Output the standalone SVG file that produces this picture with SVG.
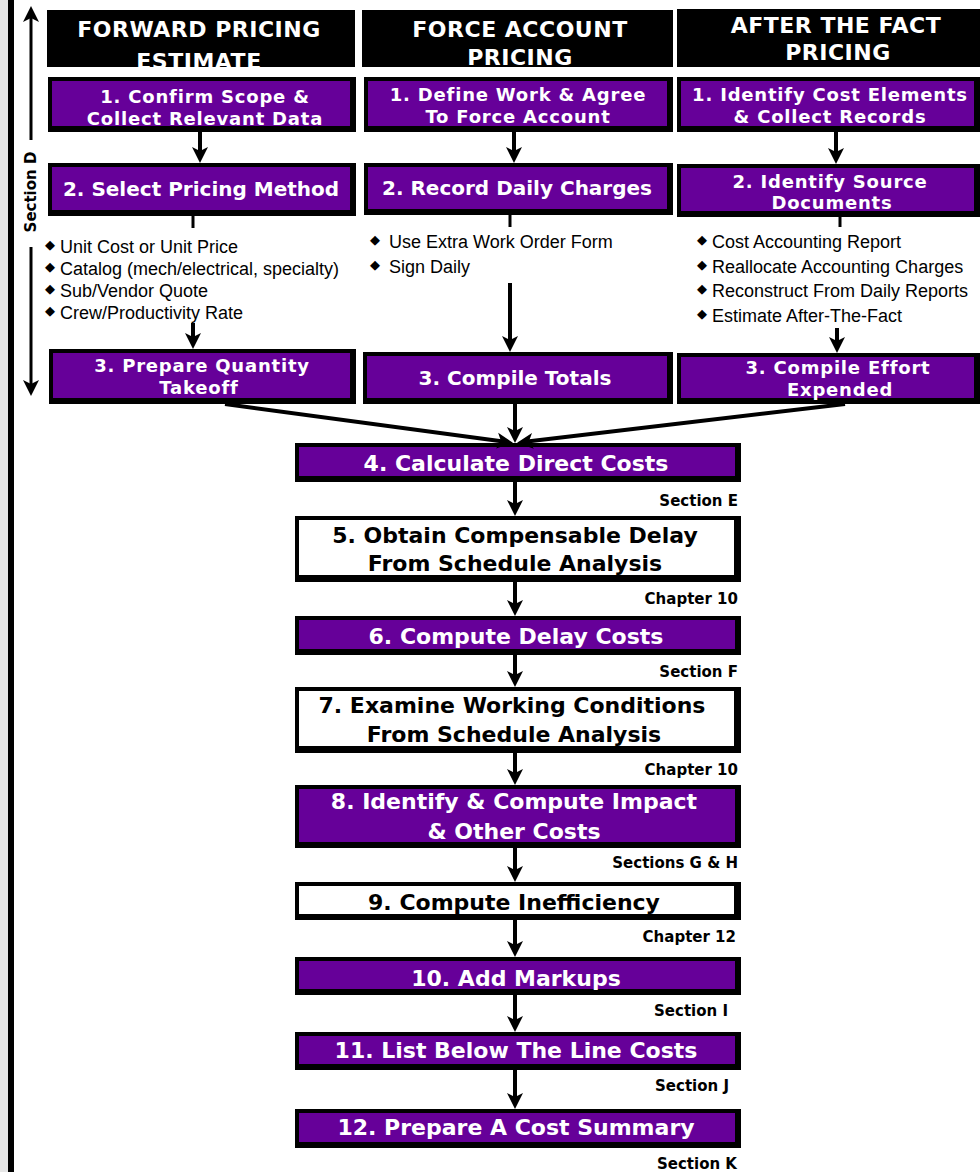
<svg xmlns="http://www.w3.org/2000/svg" width="980" height="1172" viewBox="0 0 980 1172">
<defs>
<style>
.blk{fill:#000}
.pur{fill:#660099}
.wht{fill:#fff}
.t{font-family:"DejaVu Sans","Liberation Sans",sans-serif;font-weight:bold;text-anchor:middle}
.tw{fill:#fff}
.tk{fill:#000}
.s18{font-size:18px;letter-spacing:0.8px}
.s20{font-size:20px}
.s22{font-size:22px}
.hd{font-size:22px;letter-spacing:0.5px}
.lbl{font-family:"DejaVu Sans","Liberation Sans",sans-serif;font-weight:bold;font-size:15px;text-anchor:end;fill:#000}
.bul{font-family:"Liberation Sans",Arial,sans-serif;font-size:18px;fill:#000}
.dia{font-family:"DejaVu Sans",sans-serif;font-size:13px;text-anchor:middle;fill:#000}
.con{stroke:#000;stroke-width:4;fill:none}
.tick{stroke:#000;stroke-width:3;fill:none}
</style>
<marker id="ah" markerUnits="userSpaceOnUse" markerWidth="18" markerHeight="18" refX="10" refY="9" orient="auto">
<path d="M0,1 L16,9 L0,17 L4,9 z" fill="#000"/>
</marker>
</defs>
<rect x="0" y="0" width="980" height="1172" fill="#fff"/>
<rect x="0" y="0" width="8" height="1172" fill="#e6e6e6"/>
<rect x="8" y="0" width="6" height="1172" fill="#000"/>

<g id="axis">
<path class="con" style="stroke-width:3" d="M31,140 V12" marker-end="url(#ah)"/>
<path class="con" style="stroke-width:3" d="M31,247 V390" marker-end="url(#ah)"/>
<text class="t tk" style="font-size:15px" transform="translate(36,192) rotate(-90)">Section D</text>
</g>

<g id="header1">
<rect class="blk" x="47" y="10" width="308" height="57"/>
<text class="t tw hd" x="199" y="37">FORWARD PRICING</text>
<text class="t tw hd" x="199" y="69">ESTIMATE</text>
</g>
<g id="header2">
<rect class="blk" x="362" y="10" width="311" height="57"/>
<text class="t tw hd" x="520" y="37">FORCE ACCOUNT</text>
<text class="t tw hd" x="520" y="65">PRICING</text>
</g>
<g id="header3">
<rect class="blk" x="677" y="9" width="303" height="58"/>
<text class="t tw hd" x="836" y="33">AFTER THE FACT</text>
<text class="t tw hd" x="838" y="60">PRICING</text>
</g>

<g id="fpe1">
<rect class="blk" x="48" y="77" width="308" height="55"/>
<rect class="pur" x="52" y="81" width="298" height="45"/>
<text class="t tw s18" x="205" y="103">1. Confirm Scope &amp;</text>
<text class="t tw s18" x="205" y="125">Collect Relevant Data</text>
</g>
<g id="fa1">
<rect class="blk" x="364" y="77" width="309" height="55"/>
<rect class="pur" x="368" y="81" width="299" height="45"/>
<text class="t tw s18" x="518" y="101">1. Define Work &amp; Agree</text>
<text class="t tw s18" x="518" y="123">To Force Account</text>
</g>
<g id="atf1">
<rect class="blk" x="677" y="77" width="303" height="55"/>
<rect class="pur" x="681" y="81" width="293" height="45"/>
<text class="t tw s18" x="830" y="101">1. Identify Cost Elements</text>
<text class="t tw s18" x="830" y="123">&amp; Collect Records</text>
</g>

<g id="fpe2">
<rect class="blk" x="48" y="163" width="308" height="53"/>
<rect class="pur" x="52" y="167" width="298" height="43"/>
<text class="t tw s20" x="201" y="196">2. Select Pricing Method</text>
</g>
<g id="fa2">
<rect class="blk" x="364" y="163" width="309" height="52"/>
<rect class="pur" x="368" y="167" width="299" height="42"/>
<text class="t tw s20" x="517" y="195">2. Record Daily Charges</text>
</g>
<g id="atf2">
<rect class="blk" x="677" y="164" width="303" height="53"/>
<rect class="pur" x="681" y="168" width="293" height="43"/>
<text class="t tw s18" x="830" y="188">2. Identify Source</text>
<text class="t tw s18" x="832" y="209">Documents</text>
</g>

<g id="fpe-bullets">
<text class="dia" x="50" y="249">◆</text>
<text class="dia" x="50" y="271">◆</text>
<text class="dia" x="50" y="293">◆</text>
<text class="dia" x="50" y="315">◆</text>
<text class="bul" x="60" y="253">Unit Cost or Unit Price</text>
<text class="bul" x="60" y="275">Catalog (mech/electrical, specialty)</text>
<text class="bul" x="60" y="297">Sub/Vendor Quote</text>
<text class="bul" x="60" y="319">Crew/Productivity Rate</text>
</g>
<g id="fa-bullets">
<text class="dia" x="375" y="244">◆</text>
<text class="dia" x="375" y="269">◆</text>
<text class="bul" x="389" y="248">Use Extra Work Order Form</text>
<text class="bul" x="389" y="273">Sign Daily</text>
</g>
<g id="atf-bullets">
<text class="dia" x="702" y="244">◆</text>
<text class="dia" x="702" y="269">◆</text>
<text class="dia" x="702" y="293">◆</text>
<text class="dia" x="702" y="318">◆</text>
<text class="bul" x="712" y="248">Cost Accounting Report</text>
<text class="bul" x="712" y="273">Reallocate Accounting Charges</text>
<text class="bul" x="712" y="297">Reconstruct From Daily Reports</text>
<text class="bul" x="712" y="322">Estimate After-The-Fact</text>
</g>

<g id="fpe3">
<rect class="blk" x="49" y="349" width="307" height="55"/>
<rect class="pur" x="53" y="353" width="297" height="45"/>
<text class="t tw s18" x="202" y="372">3. Prepare Quantity</text>
<text class="t tw s18" x="199" y="394">Takeoff</text>
</g>
<g id="fa3">
<rect class="blk" x="363" y="352" width="310" height="52"/>
<rect class="pur" x="367" y="356" width="300" height="42"/>
<text class="t tw s20" x="515" y="385">3. Compile Totals</text>
</g>
<g id="atf3">
<rect class="blk" x="677" y="353" width="303" height="51"/>
<rect class="pur" x="681" y="357" width="293" height="41"/>
<text class="t tw s18" x="838" y="374">3. Compile Effort</text>
<text class="t tw s18" x="840" y="396">Expended</text>
</g>

<g id="step4">
<rect class="blk" x="295" y="443" width="446" height="39"/>
<rect class="pur" x="299" y="447" width="436" height="29"/>
<text class="t tw s22" x="516" y="471">4. Calculate Direct Costs</text>
</g>
<text class="lbl" x="738" y="506">Section E</text>
<g id="step5">
<rect class="blk" x="295" y="516" width="446" height="66"/>
<rect class="wht" x="299" y="520" width="435" height="55"/>
<text class="t tk s22" x="515" y="543">5. Obtain Compensable Delay</text>
<text class="t tk s22" x="515" y="571">From Schedule Analysis</text>
</g>
<text class="lbl" x="738" y="604">Chapter 10</text>
<g id="step6">
<rect class="blk" x="295" y="616" width="446" height="39"/>
<rect class="pur" x="299" y="620" width="436" height="29"/>
<text class="t tw s22" x="516" y="644">6. Compute Delay Costs</text>
</g>
<text class="lbl" x="738" y="677">Section F</text>
<g id="step7">
<rect class="blk" x="295" y="687" width="446" height="66"/>
<rect class="wht" x="299" y="691" width="435" height="55"/>
<text class="t tk s22" x="512" y="713">7. Examine Working Conditions</text>
<text class="t tk s22" x="514" y="742">From Schedule Analysis</text>
</g>
<text class="lbl" x="738" y="775">Chapter 10</text>
<g id="step8">
<rect class="blk" x="295" y="785" width="446" height="63"/>
<rect class="pur" x="299" y="789" width="436" height="53"/>
<text class="t tw s22" x="514" y="809">8. Identify &amp; Compute Impact</text>
<text class="t tw s22" x="514" y="839">&amp; Other Costs</text>
</g>
<text class="lbl" x="738" y="868">Sections G &amp; H</text>
<g id="step9">
<rect class="blk" x="295" y="882" width="446" height="38"/>
<rect class="wht" x="299" y="886" width="435" height="28"/>
<text class="t tk s22" x="514" y="910">9. Compute Inefficiency</text>
</g>
<text class="lbl" x="736" y="942">Chapter 12</text>
<g id="step10">
<rect class="blk" x="295" y="957" width="446" height="38"/>
<rect class="pur" x="299" y="961" width="436" height="28"/>
<text class="t tw s22" x="516" y="986">10. Add Markups</text>
</g>
<text class="lbl" x="728" y="1016">Section I</text>
<g id="step11">
<rect class="blk" x="295" y="1032" width="446" height="38"/>
<rect class="pur" x="299" y="1036" width="436" height="28"/>
<text class="t tw s22" x="516" y="1058">11. List Below The Line Costs</text>
</g>
<text class="lbl" x="729" y="1091">Section J</text>
<g id="step12">
<rect class="blk" x="295" y="1109" width="446" height="39"/>
<rect class="pur" x="299" y="1113" width="436" height="29"/>
<text class="t tw s22" x="516" y="1135">12. Prepare A Cost Summary</text>
</g>
<text class="lbl" x="737" y="1169">Section K</text>

<g id="connectors">
<path class="con" d="M200,132 V157" marker-end="url(#ah)"/>
<path class="con" d="M514,132 V157" marker-end="url(#ah)"/>
<path class="con" d="M836,132 V158" marker-end="url(#ah)"/>
<path class="tick" d="M193,216 V228"/>
<path class="tick" d="M510,215 V227"/>
<path class="tick" d="M840,217 V227"/>
<path class="con" d="M193,323 V343" marker-end="url(#ah)"/>
<path class="con" d="M510,283 V346" marker-end="url(#ah)"/>
<path class="con" d="M837,328 V347" marker-end="url(#ah)"/>
<path class="con" d="M225,404 L507,442" marker-end="url(#ah)"/>
<path class="con" d="M845,404 L523,442" marker-end="url(#ah)"/>
<path class="con" d="M515,404 V437" marker-end="url(#ah)"/>
<path class="con" d="M515,482 V510" marker-end="url(#ah)"/>
<path class="con" d="M515,582 V610" marker-end="url(#ah)"/>
<path class="con" d="M515,655 V681" marker-end="url(#ah)"/>
<path class="con" d="M515,753 V779" marker-end="url(#ah)"/>
<path class="con" d="M515,848 V876" marker-end="url(#ah)"/>
<path class="con" d="M515,920 V951" marker-end="url(#ah)"/>
<path class="con" d="M515,995 V1026" marker-end="url(#ah)"/>
<path class="con" d="M515,1070 V1103" marker-end="url(#ah)"/>
</g>
</svg>
